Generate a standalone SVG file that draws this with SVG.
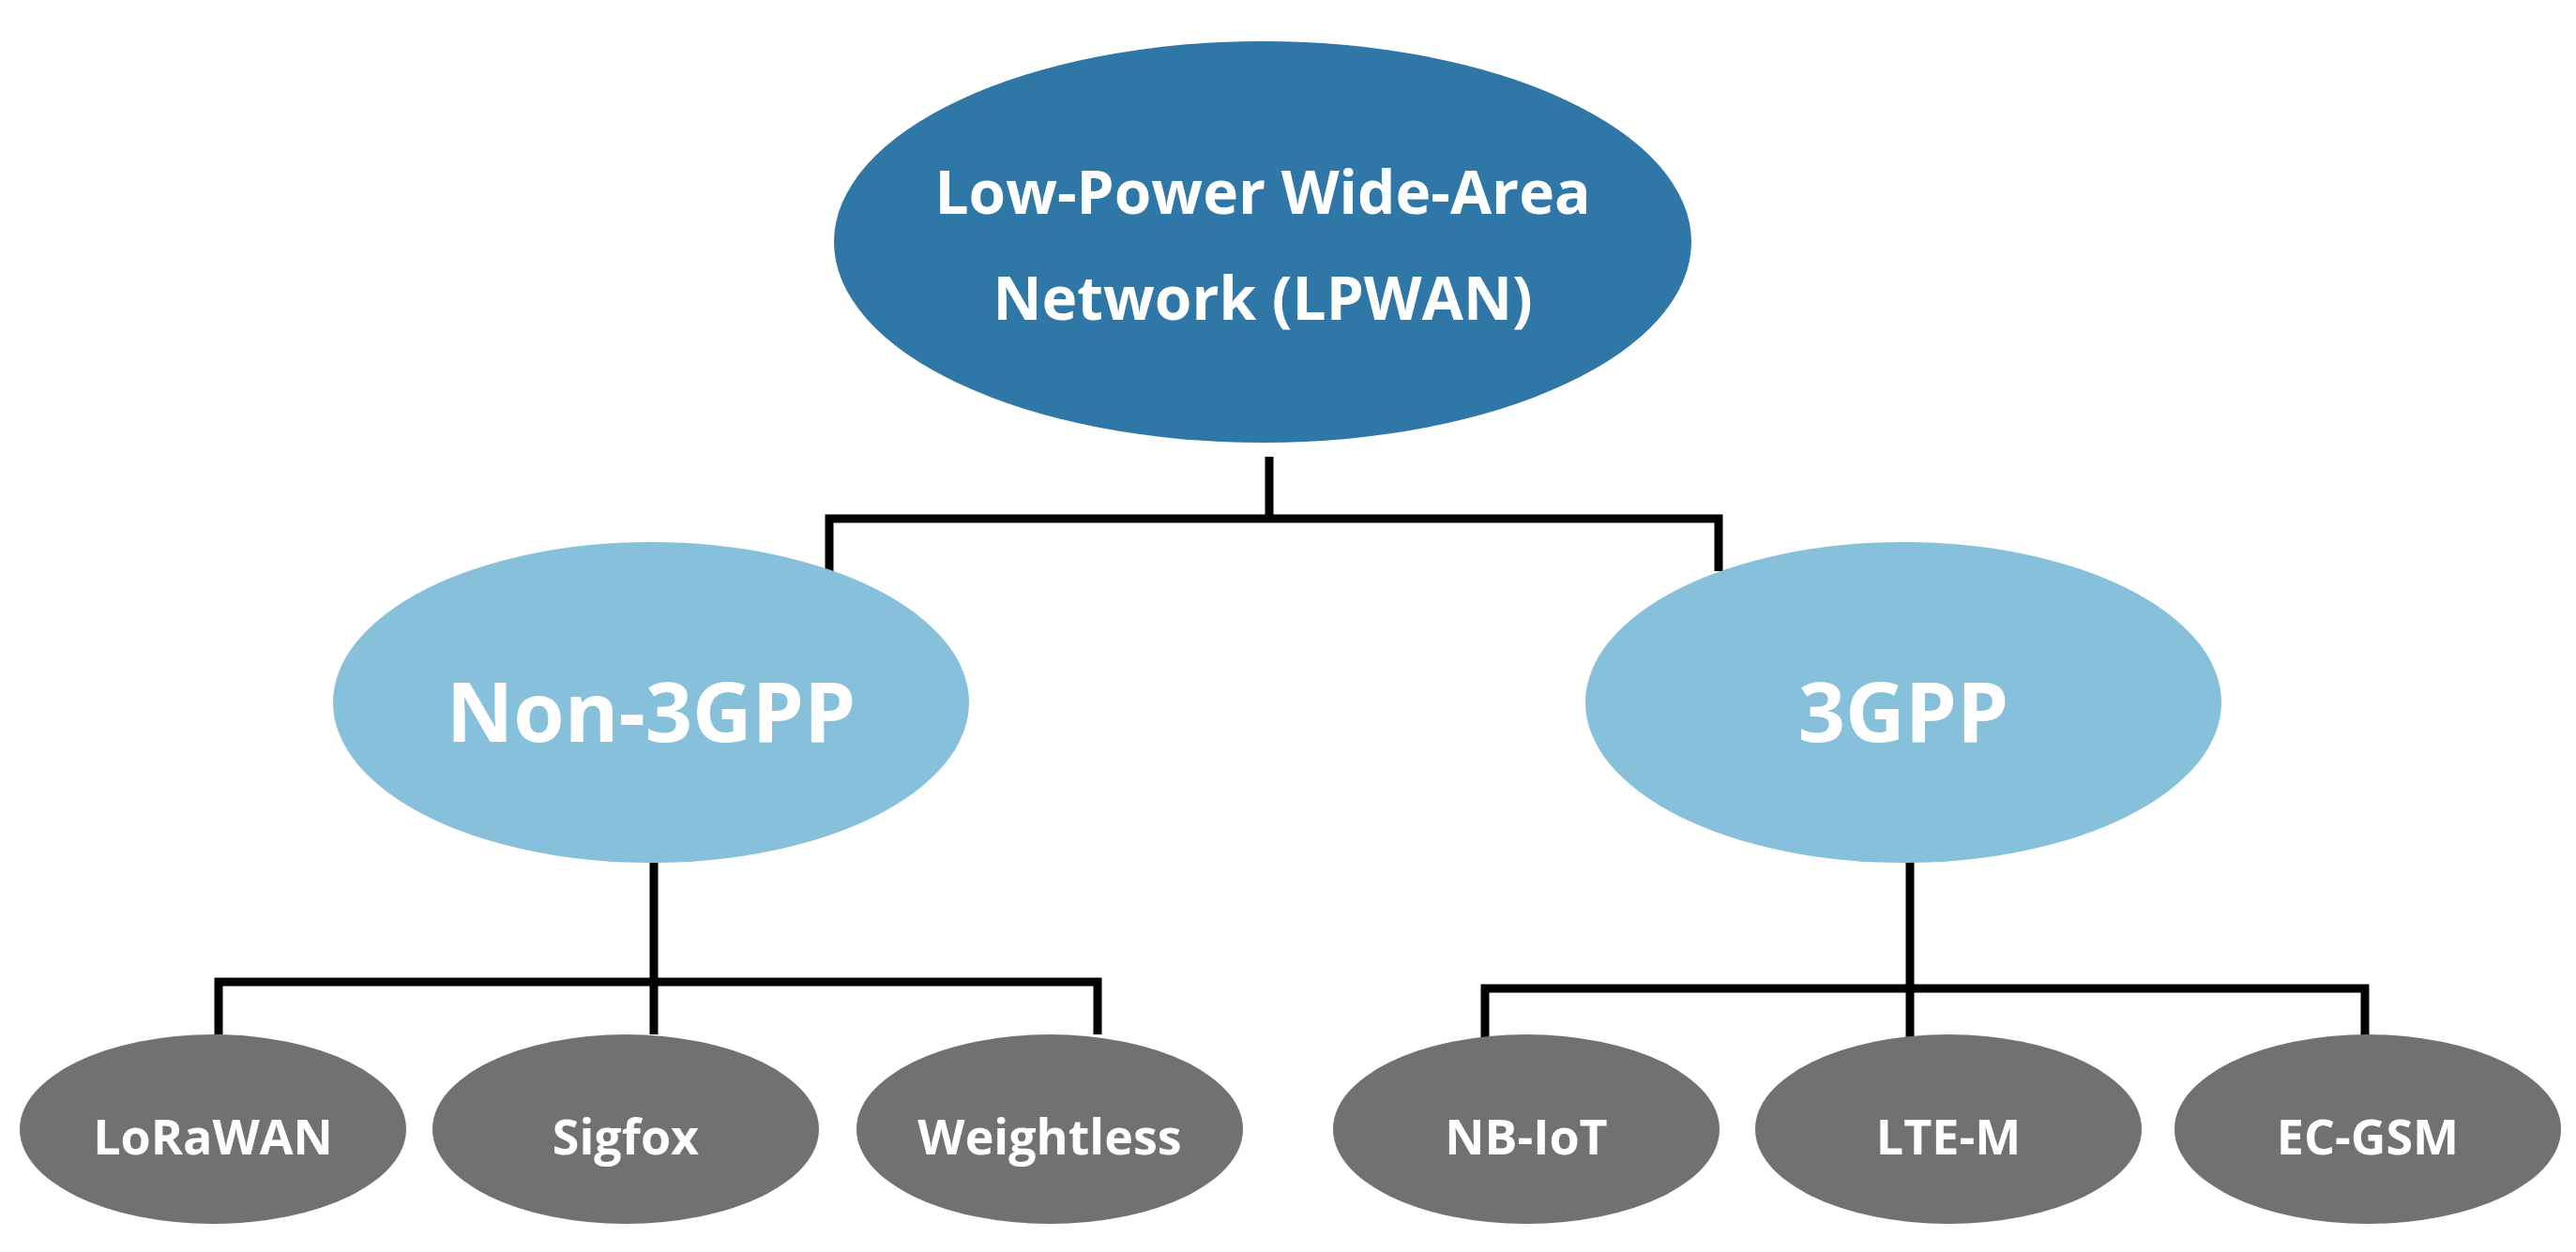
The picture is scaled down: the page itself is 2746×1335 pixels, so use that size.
<svg xmlns="http://www.w3.org/2000/svg" width="2746" height="1335" viewBox="0 0 2746 1335">
<style>
text{font-family:"Open Sans","Liberation Sans",sans-serif;font-weight:bold;fill:#fff;text-anchor:middle}
.c{stroke:#000;stroke-width:9;fill:none}
.g{fill:#717171}
.m{fill:#86c0db}
.g+text{font-size:52px}
</style>
<rect width="2746" height="1335" fill="#fff"/>
<g id="connectors">
<path class="c" d="M1353 487V553M884 609V553H1832V609"/>
<path class="c" d="M697 920V1103M233 1103V1047H1170V1103"/>
<path class="c" d="M2036 914V1107M1583 1107V1054H2521V1107"/>
</g>
<g id="root"><ellipse cx="1346" cy="258" rx="457" ry="214" fill="#2e77a6"/>
<text x="1346" y="228" font-size="64">Low-Power Wide-Area</text>
<text x="1346" y="341" font-size="64">Network (LPWAN)</text></g>
<g id="non3gpp"><ellipse class="m" cx="694" cy="749" rx="339" ry="171"/><text x="694" y="791" font-size="88">Non-3GPP</text></g>
<g id="3gpp"><ellipse class="m" cx="2029" cy="749" rx="339" ry="171"/><text x="2029" y="791" font-size="88">3GPP</text></g>
<g id="lorawan"><ellipse class="g" cx="227" cy="1204" rx="206" ry="101"/><text x="227" y="1231">LoRaWAN</text></g>
<g id="sigfox"><ellipse class="g" cx="667" cy="1204" rx="206" ry="101"/><text x="667" y="1231">Sigfox</text></g>
<g id="weightless"><ellipse class="g" cx="1119" cy="1204" rx="206" ry="101"/><text x="1119" y="1231">Weightless</text></g>
<g id="nbiot"><ellipse class="g" cx="1627" cy="1204" rx="206" ry="101"/><text x="1627" y="1231">NB-IoT</text></g>
<g id="ltem"><ellipse class="g" cx="2077" cy="1204" rx="206" ry="101"/><text x="2077" y="1231">LTE-M</text></g>
<g id="ecgsm"><ellipse class="g" cx="2524" cy="1204" rx="206" ry="101"/><text x="2524" y="1231">EC-GSM</text></g>
</svg>
